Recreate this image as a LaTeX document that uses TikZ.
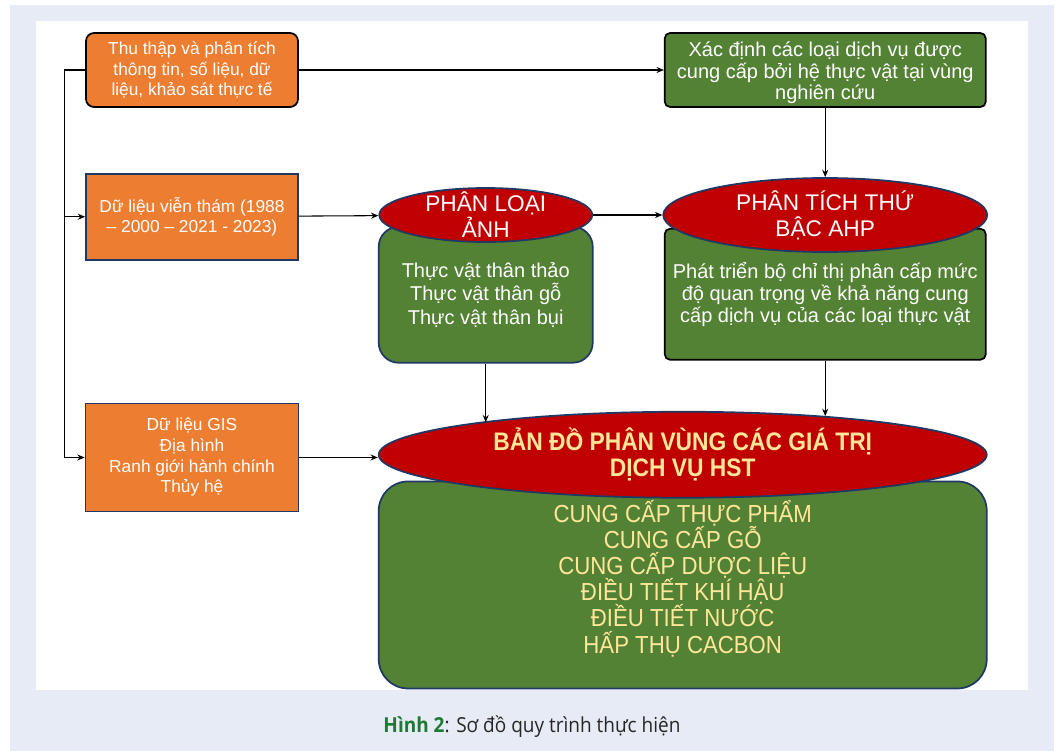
\documentclass[tikz,border=0pt]{standalone}
\usepackage{fontspec}
\setmainfont{Liberation Sans}
\newfontfamily\narrowfont{Liberation Sans}[FakeStretch=0.9]
\newfontfamily\captionfont{Open Sans}[FakeStretch=0.92]
\usepackage{tikz}
\usetikzlibrary{shapes.geometric, arrows.meta, positioning}

\definecolor{boxorange}{HTML}{ED7D31}
\definecolor{boxgreen}{HTML}{548235}
\definecolor{ellred}{HTML}{C00000}
\definecolor{navyline}{HTML}{1F3864}
\definecolor{pagetint}{HTML}{E7EBF5}
\definecolor{titlegold}{HTML}{FFE699}
\definecolor{figgreen}{HTML}{1D7A34}

\begin{document}
\begin{tikzpicture}
        [
        x=0.75pt, y=-0.75pt,
        node distance=1cm and 1cm,
        arrow/.style={-{Stealth[length=5.5pt, width=4.5pt]}, thick},
        orangebox/.style={draw=navyline, line width=1.3pt, fill=boxorange, text=white, inner sep=0pt, align=center, font=\fontsize{13}{15.5}\selectfont},
        greenbox/.style={draw=black, line width=1.3pt, fill=boxgreen, text=white, inner sep=0pt, align=center},
        titleell/.style={ellipse, draw=navyline, line width=1.3pt, fill=ellred, text=white, inner xsep=0pt, inner ysep=-12pt, align=center, font=\fontsize{17}{19.5}\selectfont}
        ]

        \useasboundingbox (0,0) rectangle (1058,751);
        \fill[white] (0,0) rectangle (1058,751);
        \fill[pagetint] (10,5) rectangle (1054,751);
        \fill[white] (36,21) rectangle (1028,690);

        \node (collect) [orangebox, draw=black, rounded corners=6pt, minimum width=159pt, minimum height=55.5pt] at (192,70) {Thu thập và phân tích\\thông tin, số liệu, dữ\\liệu, khảo sát thực tế};
        \node (remote) [orangebox, minimum width=159pt, minimum height=64.5pt, below=48.75pt of collect] {Dữ liệu viễn thám (1988\\– 2000 – 2021 - 2023)};
        \node (gis) [orangebox, minimum width=159.75pt, minimum height=81pt, below=106.5pt of remote] {Dữ liệu GIS\\Địa hình\\Ranh giới hành chính\\Thủy hệ};

        \node (services) [greenbox, rounded corners=4pt, minimum width=240.75pt, minimum height=55.5pt, font=\fontsize{15}{16.2}\selectfont, right=273.75pt of collect] {\rule{0pt}{15.5pt}Xác định các loại dịch vụ được\\cung cấp bởi hệ thực vật tại vùng\\nghiên cứu};

        \node (plabox) [greenbox, draw=navyline, rounded corners=15pt, minimum width=160.5pt, minimum height=102pt, font=\fontsize{15}{17.6}\selectfont, below right=39.75pt and 59.25pt of remote.north east] {Thực vật thân thảo\\Thực vật thân gỗ\\Thực vật thân bụi};
        \node (plaell) [titleell, minimum width=159.75pt, minimum height=40.5pt, above=-12.75pt of plabox] {PHÂN LOẠI\\ẢNH};

        \node (ahpbox) [greenbox, rounded corners=4pt, minimum width=240.75pt, minimum height=98.25pt, font=\fontsize{15}{16.5}\selectfont, below=90pt of services] {Phát triển bộ chỉ thị phân cấp mức\\độ quan trọng về khả năng cung\\cấp dịch vụ của các loại thực vật};
        \node (ahpell) [titleell, minimum width=243pt, minimum height=55.5pt, above=-18.75pt of ahpbox] {PHÂN TÍCH THỨ\\BẬC AHP};

        \node (mapbox) [greenbox, draw=navyline, rounded corners=22pt, minimum width=456pt, minimum height=155.25pt, text=titlegold, font=\narrowfont\fontsize{18.5}{19.6}\selectfont, below right=87.75pt and 0pt of plabox.south west] {CUNG CẤP THỰC PHẨM\\CUNG CẤP GỖ\\CUNG CẤP DƯỢC LIỆU\\ĐIỀU TIẾT KHÍ HẬU\\ĐIỀU TIẾT NƯỚC\\HẤP THỤ CACBON\rule[-12.5pt]{0pt}{1pt}};
        \node (mapell) [titleell, minimum width=456pt, minimum height=64.5pt, text=titlegold, font=\narrowfont\bfseries\fontsize{19}{19.5}\selectfont, above=-13.5pt of mapbox] {BẢN ĐỒ PHÂN VÙNG CÁC GIÁ TRỊ\\DỊCH VỤ HST};

        \node (caption) [font=\captionfont\fontsize{15.5}{18}\selectfont, text=black!85] at (532,727) {\textcolor{figgreen}{\bfseries Hình 2}: Sơ đồ quy trình thực hiện};

        % Edges
        \coordinate (bus) at ([xshift=-15.75pt]collect.west);
        \draw [arrow] (collect.west) -- (bus) |- (gis);
        \draw [arrow] (bus) |- (remote);
        \draw [arrow] (collect) -- (services);

        \draw [arrow] (remote) -- (plaell);
        \draw [arrow] (plaell) -- (ahpell);
        \draw [arrow] (services) -- (ahpell);

        \draw [arrow] (gis) -- (gis -| mapell.west);
        \draw [arrow] (plabox) -- (plabox |- mapell.171);
        \draw [arrow] (ahpbox) -- (ahpbox |- mapell.15);

    \end{tikzpicture}
\end{document}
